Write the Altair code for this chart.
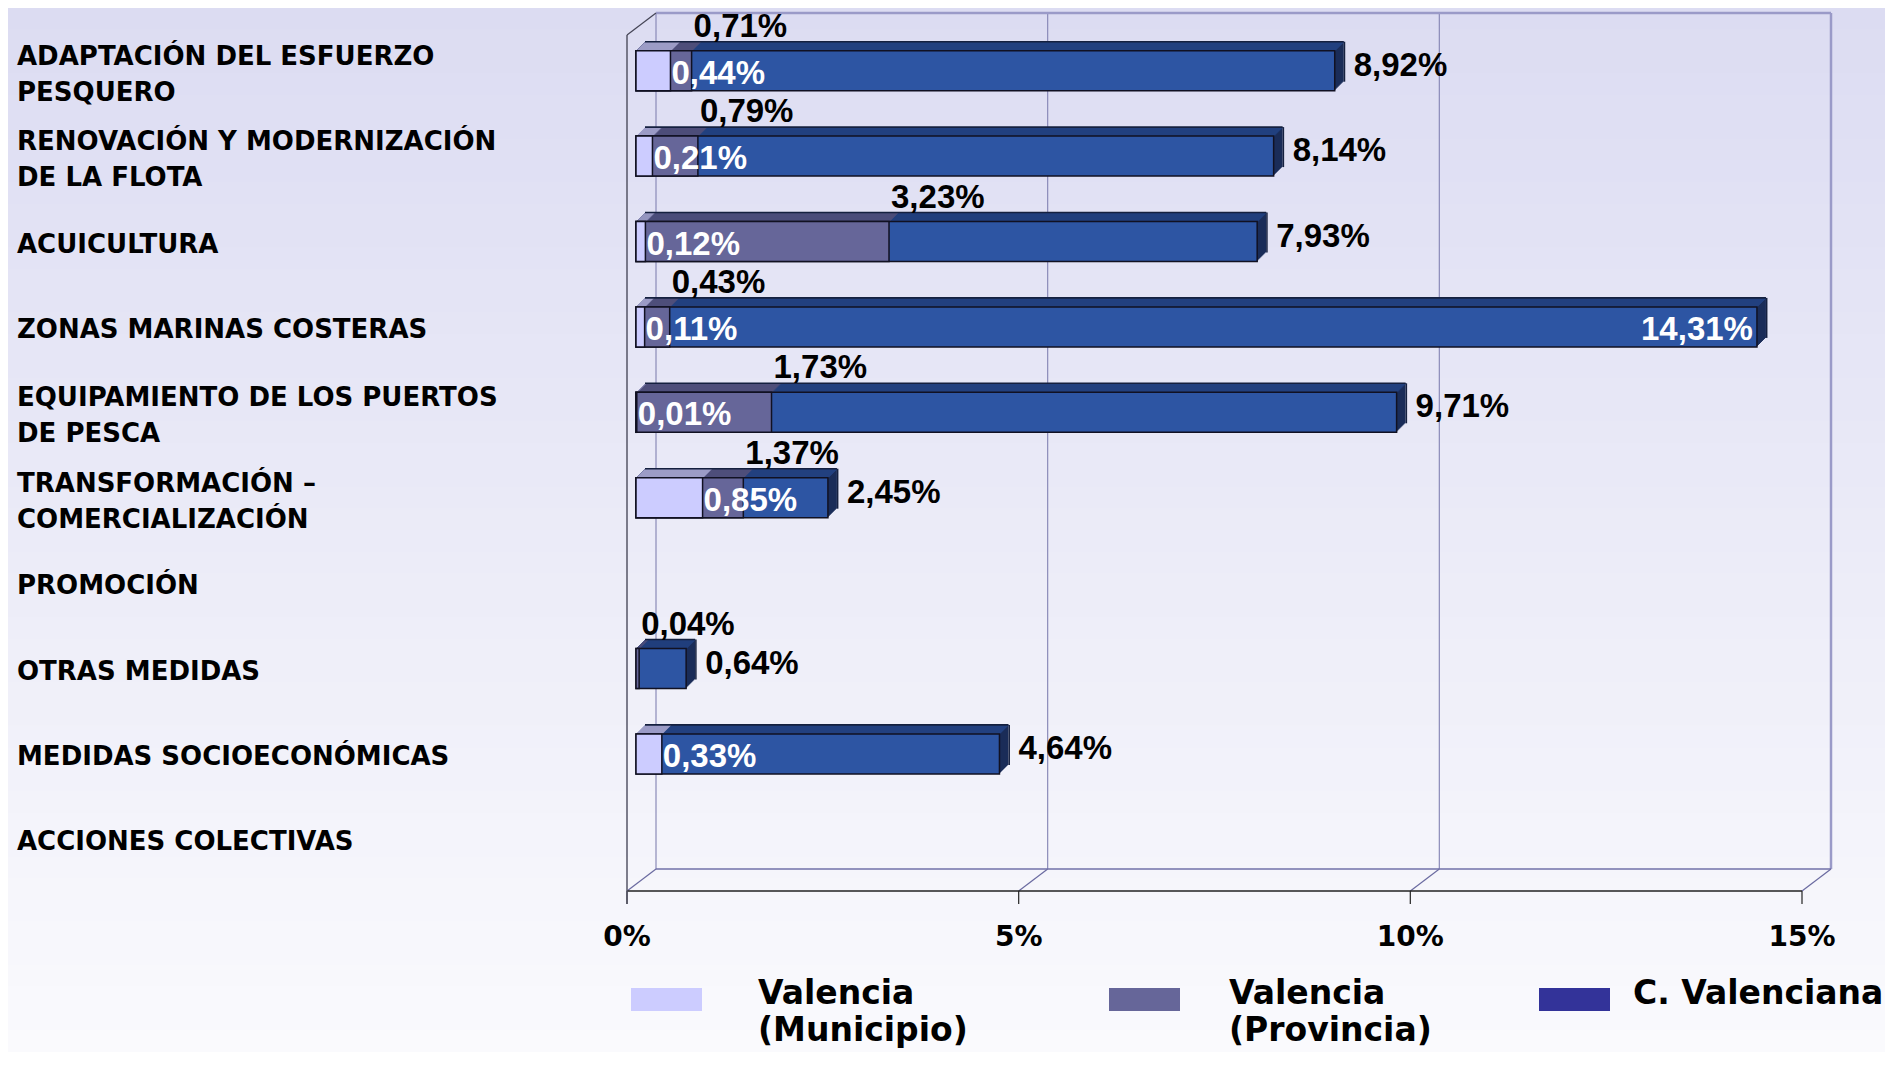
import altair as alt
import pandas as pd

# ---------------- data ----------------
categories = [
    "ADAPTACIÓN DEL ESFUERZO\nPESQUERO",
    "RENOVACIÓN Y MODERNIZACIÓN\nDE LA FLOTA",
    "ACUICULTURA",
    "ZONAS MARINAS COSTERAS",
    "EQUIPAMIENTO DE LOS PUERTOS\nDE PESCA",
    "TRANSFORMACIÓN –\nCOMERCIALIZACIÓN",
    "PROMOCIÓN",
    "OTRAS MEDIDAS",
    "MEDIDAS SOCIOECONÓMICAS",
    "ACCIONES COLECTIVAS",
]
municipio = [0.44, 0.21, 0.12, 0.11, 0.01, 0.85, None, None, 0.33, None]
provincia = [0.71, 0.79, 3.23, 0.43, 1.73, 1.37, None, 0.04, None, None]
cvalenciana = [8.92, 8.14, 7.93, 14.31, 9.71, 2.45, None, 0.64, 4.64, None]

series_names = ["Valencia\n(Municipio)", "Valencia\n(Provincia)", "C. Valenciana"]
ticks = [0, 5, 10, 15]
tick_labels = ["0%", "5%", "10%", "15%"]


def fmt(v):
    return f"{v:.2f}".replace(".", ",") + "%"


rows = []
for cat, m, p, c in zip(categories, municipio, provincia, cvalenciana):
    for s, v in (("M", m), ("P", p), ("CV", c)):
        if v is not None:
            rows.append({"cat": cat, "serie": s, "value": v, "label": fmt(v)})
df = pd.DataFrame(rows)
dM = df[df.serie == "M"]
dP = df[df.serie == "P"]
dCV = df[df.serie == "CV"]
dcat = pd.DataFrame({"cat": categories})
dcat1 = dcat[~dcat.cat.str.contains("\n")]
dcat2 = dcat[dcat.cat.str.contains("\n")]
dticks = pd.DataFrame({"tick": ticks, "label": tick_labels})
one = pd.DataFrame({"a": [0]})
edges = pd.DataFrame({"lo": [0], "hi": [15]})

# ---------------- style ----------------
FONT = "DejaVu Sans"
NUMFONT = "Liberation Sans"
M_FRONT, M_TOP = "#CCCCFF", "#9C9CC6"
P_FRONT, P_TOP = "#666699", "#4E4E7A"
CV_FRONT, CV_TOP, CV_SIDE = "#2D55A3", "#22407F", "#1A2C58"
LEG_COLORS = ["#CCCCFF", "#666699", "#333399"]
DEPTH = 9
BAR = 40

xscale = alt.Scale(domain=[0, 15], nice=False, zero=True)
yscale = alt.Scale(type="band", domain=categories, paddingInner=0, paddingOuter=0)
X = alt.X("value:Q", scale=xscale, axis=None)
Y = alt.Y("cat:N", scale=yscale, axis=None)
XT = alt.X("tick:Q", scale=xscale, axis=None)
XLO = alt.X("lo:Q", scale=xscale, axis=None)

layers = []

# background: vertical gradient built from thin horizontal bands
BG_TOP, BG_BOT = (220, 220, 242), (250, 250, 253)
Y_TOP, Y_BOT, NBANDS = -20, 1024, 48
step = (Y_BOT - Y_TOP) / NBANDS
for i in range(NBANDS):
    t = i / (NBANDS - 1)
    col = "#%02X%02X%02X" % tuple(round(a + (b - a) * t) for a, b in zip(BG_TOP, BG_BOT))
    y0 = Y_TOP + i * step
    layers.append(alt.Chart(one).mark_rect(fill=col, strokeWidth=0).encode(
        x=alt.value(-628), x2=alt.value(1249), y=alt.value(y0), y2=alt.value(y0 + step + 1)))

# frame (3D walls)
layers.append(alt.Chart(dticks).mark_rule(color="#8A8AB8", strokeWidth=1.2, xOffset=20)
              .encode(x=XT, y=alt.value(-15), y2=alt.value(841)))
layers.append(alt.Chart(dticks).mark_rule(color="#6A6AA0", strokeWidth=1.2, xOffset=-9, x2Offset=20)
              .encode(x=XT, x2="tick:Q", y=alt.value(863), y2=alt.value(841)))
layers.append(alt.Chart(dticks).mark_rule(color="#333333", strokeWidth=1.3, xOffset=-9)
              .encode(x=XT, y=alt.value(863), y2=alt.value(876)))
layers.append(alt.Chart(edges).mark_rule(color="#9A9AC8", strokeWidth=2.5, xOffset=20, x2Offset=20)
              .encode(x=XLO, x2="hi:Q", y=alt.value(-15)))
layers.append(alt.Chart(edges).mark_rule(color="#9A9AC8", strokeWidth=2.5, xOffset=20)
              .encode(x=alt.X("hi:Q", scale=xscale, axis=None), y=alt.value(-15), y2=alt.value(841)))
layers.append(alt.Chart(edges).mark_rule(color="#7070A8", strokeWidth=1.5, xOffset=20, x2Offset=20)
              .encode(x=XLO, x2="hi:Q", y=alt.value(841)))
layers.append(alt.Chart(edges).mark_rule(color="#222222", strokeWidth=1.6, xOffset=-9, x2Offset=-9)
              .encode(x=XLO, x2="hi:Q", y=alt.value(863)))
layers.append(alt.Chart(edges).mark_rule(color="#555566", strokeWidth=1.5, xOffset=-9)
              .encode(x=XLO, y=alt.value(7), y2=alt.value(876)))
layers.append(alt.Chart(edges).mark_rule(color="#444455", strokeWidth=1.2, xOffset=-9, x2Offset=20)
              .encode(x=XLO, x2="lo:Q", y=alt.value(7), y2=alt.value(-15)))


def bar(data, fill, size, xo, x2o, yo, to_value=False, stroke=None):
    mk = dict(fill=fill, size=size, xOffset=xo, x2Offset=x2o, yOffset=yo, opacity=1)
    if stroke:
        mk.update(stroke=stroke, strokeWidth=1.5)
    else:
        mk.update(strokeWidth=0)
    d = data.assign(zero=0)
    return alt.Chart(d).mark_bar(**mk).encode(
        x=X, x2=("value:Q" if to_value else "zero:Q"), y=Y
    )


# extrusion of C. Valenciana (side face)
for k in range(1, DEPTH + 1):
    layers.append(bar(dCV, CV_SIDE, BAR, k, k, -k))
# top faces
for d, col in ((dCV, CV_TOP), (dP, P_TOP), (dM, M_TOP)):
    for k in range(1, DEPTH + 1):
        layers.append(bar(d, col, 1.4, k, k, -(BAR / 2) - k + 0.5))
# edges of the CV box
layers.append(bar(dCV, "#15203F", 1.6, DEPTH, DEPTH, -(BAR / 2) - DEPTH))
layers.append(bar(dCV, "#15203F", BAR, DEPTH + 1.5, DEPTH, -DEPTH, to_value=True))
# front faces
layers.append(bar(dCV, CV_FRONT, BAR, 0, 0, 0, stroke="#111122"))
layers.append(bar(dP, P_FRONT, BAR, 0, 0, 0, stroke="#111122"))
layers.append(bar(dM, M_FRONT, BAR, 0, 0, 0, stroke="#111122"))

# value labels
txt = dict(font=NUMFONT, fontWeight="bold", fontSize=33, baseline="middle")
layers.append(alt.Chart(dP).mark_text(align="left", dx=2, dy=-44, color="black", **txt)
              .encode(x=X, y=Y, text="label:N"))
layers.append(alt.Chart(dM).mark_text(align="left", dx=1, dy=3, color="white", **txt)
              .encode(x=X, y=Y, text="label:N"))
layers.append(alt.Chart(dCV[dCV.value < 12]).mark_text(align="left", dx=19, dy=-5, color="black", **txt)
              .encode(x=X, y=Y, text="label:N"))
layers.append(alt.Chart(dCV[dCV.value >= 12]).mark_text(align="right", dx=-4, dy=3, color="white", **txt)
              .encode(x=X, y=Y, text="label:N"))

# category labels
cat_txt = dict(font=FONT, fontWeight="bold", fontSize=26, align="left", baseline="middle",
               lineBreak="\n", lineHeight=36, color="black")
layers.append(alt.Chart(dcat1).mark_text(dy=3, **cat_txt).encode(x=alt.value(-619), y=Y, text="cat:N"))
layers.append(alt.Chart(dcat2).mark_text(dy=-14, **cat_txt).encode(x=alt.value(-619), y=Y, text="cat:N"))

# tick labels
layers.append(alt.Chart(dticks).mark_text(
    font=FONT, fontWeight="bold", fontSize=28, align="center", baseline="alphabetic",
    dx=-9, color="black"
).encode(x=XT, y=alt.value(918), text="label:N"))

# legend
legend_sq_x = [-5, 473, 903]
legend_tx_x = [122, 593, 997]
for name, col, sx, tx in zip(series_names, LEG_COLORS, legend_sq_x, legend_tx_x):
    layers.append(alt.Chart(one).mark_rect(fill=col).encode(
        x=alt.value(sx), x2=alt.value(sx + 71), y=alt.value(960), y2=alt.value(983)))
    layers.append(alt.Chart(pd.DataFrame({"t": [name]})).mark_text(
        font=FONT, fontWeight="bold", fontSize=33, align="left", baseline="alphabetic",
        lineBreak="\n", lineHeight=37, color="black"
    ).encode(x=alt.value(tx), y=alt.value(976), text="t:N"))

chart = alt.layer(*layers).properties(
    width=1175,
    height=854,
    autosize=alt.AutoSizeParams(type="none"),
    padding={"left": 628, "top": 20, "right": 74, "bottom": 170},
).configure(background="#F4F4FA").configure_view(stroke=None)

chart.save("out.html", embed_options={"renderer": "svg", "actions": False})
